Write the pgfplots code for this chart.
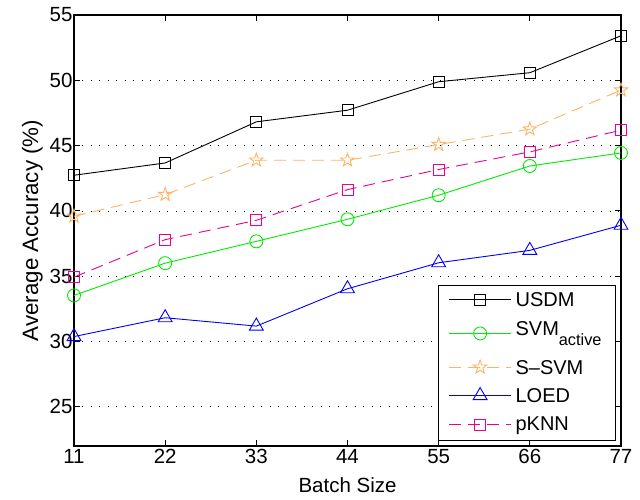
\documentclass[border=0pt]{standalone}
\usepackage{pgfplots}
\pgfplotsset{compat=1.18}
\usepackage{fontspec}
\setmainfont{Liberation Sans}
\definecolor{sorange}{RGB}{255,178,102}
\definecolor{mgreen}{RGB}{0,235,0}
\newcommand{\bigfont}{\fontsize{20.5}{24}\selectfont}
\newcommand{\legfont}{\fontsize{20}{24}\selectfont}
\newcommand{\ls}{\rule[-2pt]{0pt}{18pt}}
\pgfdeclareplotmark{pentagram}{%
  \pgfpathmoveto{\pgfpointpolar{90}{\pgfplotmarksize}}%
  \pgfpathlineto{\pgfpointpolar{126}{0.40\pgfplotmarksize}}%
  \pgfpathlineto{\pgfpointpolar{162}{\pgfplotmarksize}}%
  \pgfpathlineto{\pgfpointpolar{198}{0.40\pgfplotmarksize}}%
  \pgfpathlineto{\pgfpointpolar{234}{\pgfplotmarksize}}%
  \pgfpathlineto{\pgfpointpolar{270}{0.40\pgfplotmarksize}}%
  \pgfpathlineto{\pgfpointpolar{306}{\pgfplotmarksize}}%
  \pgfpathlineto{\pgfpointpolar{342}{0.40\pgfplotmarksize}}%
  \pgfpathlineto{\pgfpointpolar{18}{\pgfplotmarksize}}%
  \pgfpathlineto{\pgfpointpolar{54}{0.40\pgfplotmarksize}}%
  \pgfpathclose\pgfusepathqstroke}
\begin{document}
\begin{tikzpicture}
\begin{axis}[
  scale only axis, width=547pt, height=431pt,
  xmin=11, xmax=77, ymin=22, ymax=55,
  xtick={11,22,33,44,55,66,77}, ytick={25,30,35,40,45,50,55},
  tick align=inside, tick pos=both, major tick length=6pt,
  ymajorgrids, grid style={black, line width=0.7pt, dash pattern=on 0.7pt off 7.8pt},
  axis line style={line width=1.1pt},
  every tick/.style={black, line width=0.9pt},
  tick label style={font=\bigfont},
  yticklabel style={xshift=2pt},
  xlabel style={font=\bigfont, yshift=-7pt},
  ylabel style={font=\fontsize{22.3}{26}\selectfont},
  /pgf/number format/assume math mode=true,
  xlabel={Batch Size}, ylabel={Average Accuracy (\%)},
  legend cell align=left,
  legend style={at={(rel axis cs:1,0)}, anchor=south east, xshift=-5pt, yshift=5pt,
    draw=black, line width=1pt, font=\legfont,
    inner xsep=10pt, inner ysep=5.5pt, row sep=10.3pt,
    nodes={inner ysep=0pt, inner xsep=4pt, text depth=}},
  legend image code/.code={\draw[mark repeat=2,mark phase=2] plot coordinates {(0pt,0pt) (31pt,0pt) (62pt,0pt)};},
  every axis plot/.append style={line width=0.9pt},
]
\addplot[black, mark=square, mark size=5.5pt] coordinates {
 (11,42.73) (22,43.67) (33,46.82) (44,47.71) (55,49.89) (66,50.58) (77,53.41)};
\addlegendentry{USDM\ls}
\addplot[mgreen, mark=o, mark size=6.5pt] coordinates {
 (11,33.53) (22,36.0) (33,37.67) (44,39.36) (55,41.2) (66,43.44) (77,44.44)};
\addlegendentry{SVM\raisebox{-10pt}{\fontsize{16.3}{18}\selectfont active}\rule[-12pt]{0pt}{29pt}}
\addplot[sorange, dash pattern=on 12pt off 7pt, mark=pentagram, mark size=7pt, mark options={solid}] coordinates {
 (11,39.59) (22,41.25) (33,43.88) (44,43.88) (55,45.08) (66,46.26) (77,49.25)};
\addlegendentry{S--SVM\ls}
\addplot[blue, mark=triangle, mark size=8pt] coordinates {
 (11,30.38) (22,31.82) (33,31.18) (44,34.04) (55,36.03) (66,36.98) (77,38.9)};
\addlegendentry{LOED\ls}
\addplot[magenta, dash pattern=on 12pt off 7pt, mark=square, mark size=5.5pt, mark options={solid}] coordinates {
 (11,34.93) (22,37.8) (33,39.28) (44,41.63) (55,43.17) (66,44.52) (77,46.18)};
\addlegendentry{pKNN\ls}
\end{axis}
\pgfresetboundingbox
\path[use as bounding box] (current axis.south west) ++(-74pt,-53pt) rectangle ++(640pt,499pt);
\end{tikzpicture}
\end{document}
